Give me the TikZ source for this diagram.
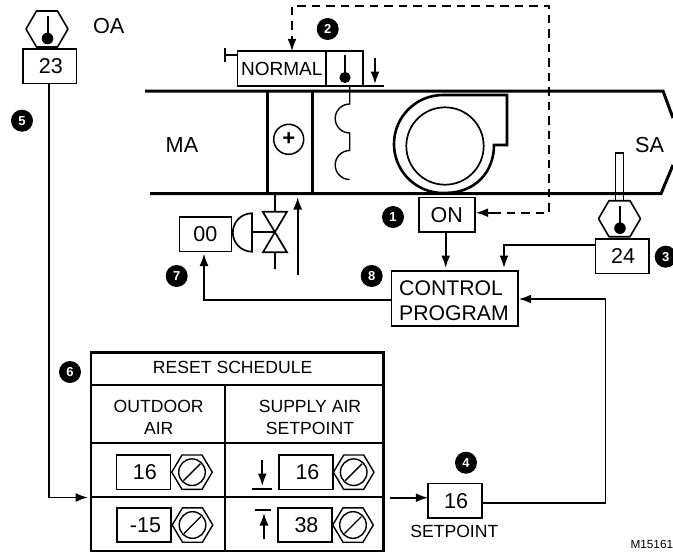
\documentclass[tikz,border=0pt]{standalone}
\usepackage{fontspec}
\setmainfont{Liberation Sans}
\usetikzlibrary{arrows.meta,calc}
\tikzset{
  x=1pt,y=-1pt,
  wire/.style={line width=1.8pt,line join=miter},
  arrowline/.style={wire,-{Latex[length=12.5pt,width=9pt]}},
  dashline/.style={wire,dash pattern=on 8.5pt off 6pt},
  duct/.style={line width=3pt},
  thin line/.style={line width=1.4pt},
  boxn/.style={draw,line width=1.6pt,inner sep=0pt,outer sep=0pt,font=\fontsize{21.5}{21.5}\selectfont},
  smallbox/.style={boxn,minimum width=53.5pt,minimum height=34.5pt},
  bullet/.style={circle,fill=black,text=white,inner sep=0pt,outer sep=0pt,minimum size=22pt,font=\fontsize{13}{13}\selectfont\bfseries},
  lab/.style={inner sep=0pt,font=\fontsize{21.7}{21.7}\selectfont},
  ctrllab/.style={inner sep=0pt,font=\fontsize{21.2}{21.2}\selectfont},
  tablab/.style={inner sep=0pt,align=center,font=\fontsize{17.6}{22}\selectfont},
  sensorhex/.pic={
    \draw[line width=1.6pt,line join=round] (-21,0)--(-10.5,-18)--(10.5,-18)--(21,0)--(10.5,18)--(-10.5,18)--cycle;
    \draw[line width=2pt] (0.5,-13)--(0.5,9);
    \fill (0.5,9.5) circle (5.8);
  },
  adjhex/.pic={
    \draw[line width=1.4pt,line join=round] (-20.3,0)--(-10,-17.2)--(10,-17.2)--(20.3,0)--(10,17.2)--(-10,17.2)--cycle;
    \draw[line width=1.4pt] (0,0) circle (13.3);
    \draw[line width=1.4pt] (-8.5,8.5)--(8.5,-8.5);
  },
}
\begin{document}
\begin{tikzpicture}
\useasboundingbox (0,0) rectangle (673,552);
% duct
\draw[duct,line join=miter] (145,91)--(663,91)--(673,118);
\draw[duct,line join=miter] (150,193.7)--(661,193.7)--(673,165);
\draw[duct] (267.3,91)--(267.3,193.7);
\draw[duct] (312.7,91)--(312.7,193.7);
\node[lab] (ma) at (182,145) {MA};
\node[lab] (sa) at (649.7,145) {SA};
\node[lab] (oa) at (108.7,26) {OA};
\node[draw,circle,line width=1.5pt,minimum size=30pt,inner sep=0pt,font=\fontsize{22}{22}\selectfont\bfseries] (plus) at (288.7,139.3) {+};
% fan
\draw[line width=2.6pt,line join=miter] (507,95) -- (443,95) arc[start angle=270,end angle=87,radius=49] .. controls (475,193) and (494,172) .. (494,145) -- (507,145) -- cycle;
\draw[line width=1.7pt] (445,146) circle (38.7);
% OA sensor
\pic at (47,29) {sensorhex};
\node[smallbox,minimum width=53.5pt] (b23) at (49.8,66.4) {\hspace*{2pt}23};
% normal
\node[boxn,minimum width=88.3pt,minimum height=34.7pt,font=\fontsize{19}{19}\selectfont] (normal) at (281.8,68.6) {NORMAL};
\node[boxn,minimum width=37pt,minimum height=34.7pt] (nsensor) at (344.5,68.6) {};
\draw[line width=2pt] (345,55)--(345,72);
\fill (345,77.5) circle (5.6);
\coordinate (tbar) at (225,55);
\draw[wire] (225,48)--(225,62);
\draw[wire] (tbar)--(normal.north west |- tbar);
\draw[arrowline] (375,58)--(375,84);
\draw[wire] (363,86)--(384,86);
% flexible connection
\coordinate (flex) at (349.7,104);
\draw[thin line] (nsensor.south -| flex)--(flex) arc[start angle=270,end angle=90,radius=14.5] -- ++(0,17.5) arc[start angle=270,end angle=90,radius=14.5];
% ON
\node[boxn,minimum width=56pt,minimum height=34.3pt] (on) at (446.7,214.8) {ON};
\node[boxn,minimum width=126.4pt,minimum height=55pt] (ctrl) at (454.5,298.5) {};
\node[ctrllab,anchor=base west] (ctrl1) at (399,295) {CONTROL};
\node[ctrllab,anchor=base west] (ctrl2) at (399,320) {PROGRAM};
\coordinate (onx) at (445.7,240);
\draw[arrowline,shorten >=3pt] (on.south -| onx)--(ctrl.north -| onx);
% dashed
\coordinate (da) at (292,5.7);
\coordinate (db) at (549,5.7);
\coordinate (dc) at (549,212.7);
\coordinate (dd) at (292,36);
\coordinate (de) at (492,212.7);
\draw[dashline] (de) -- (dc)--(db)--(da)--(dd);
\draw[arrowline] (dd)--(normal.north -| da);
\draw[arrowline,shorten >=1pt] (de)--(on.east |- de);
% SA sensor
\draw[line width=1.5pt] (615.3,201)--(615.3,153)--(623.3,153)--(623.3,201);
\pic at (619.5,218.7) {sensorhex};
\node[smallbox] (b24) at (622.2,256.2) {\hspace*{2pt}24};
\coordinate (c24) at (504,245);
\draw[arrowline,shorten >=3pt] (b24.west |- c24)--(c24)--(ctrl.north -| c24);
% valve
\draw[line width=1.7pt,line join=miter] (262.7,211.7)--(287,211.7)--(263,252.3)--(287,252.3)--cycle;
\draw[wire] (275,193.7)--(275,211.7);
\draw[wire] (275,252.3)--(275,269.3);
\draw[wire] (251.7,232.3)--(275,232.3);
\draw[line width=1.7pt] (252,213.3) arc[start angle=270,end angle=90,radius=19.2] -- cycle;
\node[smallbox,minimum width=52pt] (b00) at (205.3,234.3) {00};
\coordinate (up) at (297.7,275);
\coordinate (uptip) at (297.7,197);
\draw[arrowline] (up)--(uptip);
% control output
\coordinate (out) at (204,300);
\draw[arrowline,shorten >=2pt] (ctrl.west |- out)--(out)--(b00.south -| out);
% OA to schedule
\coordinate (oc) at (48.7,497.5);
\coordinate (tabin) at (88,497.5);
\draw[arrowline] (b23.south -| oc)--(oc)--(tabin);
% table
\coordinate (tl) at (91,352.3);
\coordinate (tr) at (383.3,550.7);
\draw[line width=2.4pt] (tl) rectangle (tr);
\draw[line width=2.2pt] (91,385)--(383.3,385) (91,442.7)--(383.3,442.7) (91,497.3)--(383.3,497.3) (225,385)--(225,550.7);
\node[tablab] (title) at (232.7,367) {RESET SCHEDULE};
\node[tablab] (outd) at (158.7,417) {OUTDOOR\\AIR};
\node[tablab] (supp) at (310,417) {SUPPLY AIR\\SETPOINT};
\node[smallbox,minimum width=54pt] (c1) at (143.3,472.2) {\hspace*{3pt}16};
\node[smallbox,minimum width=54pt] (c2) at (144,525) {\hspace*{3pt}-15};
\node[smallbox] (c3) at (306,472.2) {\hspace*{3pt}16};
\node[smallbox] (c4) at (305,525) {\hspace*{3pt}38};
\pic at (192,472.2) {adjhex};
\pic at (192.5,525) {adjhex};
\pic at (353.7,472.2) {adjhex};
\pic at (353,525) {adjhex};
\draw[arrowline] (262.3,460)--(262.3,486);
\draw[wire] (252.3,489)--(272.3,489);
\draw[arrowline] (264,539)--(264,513);
\draw[wire] (255,510)--(271,510);
% setpoint
\node[smallbox] (sp) at (455,500.8) {\hspace*{2pt}16};
\node[tablab,anchor=base] (spl) at (454.3,537.7) {SETPOINT};
\coordinate (arrs) at (390,497.7);
\draw[arrowline] (arrs)--(sp.west |- arrs);
\coordinate (r1) at (605.5,502.7);
\coordinate (r2) at (605.5,299);
\draw[arrowline,shorten >=1pt] (sp.east |- r1)--(r1)--(r2)--(ctrl.east |- r2);
\node[inner sep=0pt,anchor=base west,font=\fontsize{11.8}{11.8}\selectfont] (mark) at (630.3,548) {M15161};
% bullets
\node[bullet] (n1) at (393,217) {1};
\node[bullet] (n2) at (327.7,29) {2};
\node[bullet] (n3) at (665.7,256.7) {3};
\node[bullet] (n4) at (466,462.7) {4};
\node[bullet] (n5) at (22,120.7) {5};
\node[bullet] (n6) at (70,372) {6};
\node[bullet] (n7) at (176.7,276) {7};
\node[bullet] (n8) at (371.7,276) {8};
\end{tikzpicture}
\end{document}
